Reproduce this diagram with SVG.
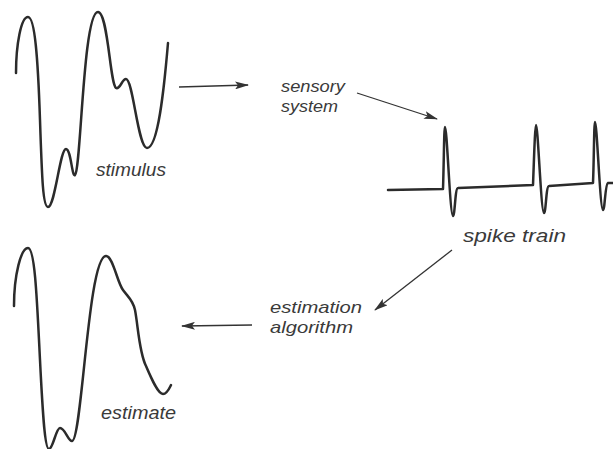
<svg xmlns="http://www.w3.org/2000/svg" width="613" height="449" viewBox="0 0 613 449">
<style>
.wave{fill:none;stroke:#2b2b2b;stroke-width:2.5;stroke-linecap:round;stroke-linejoin:round}
.conn{fill:none;stroke:#333;stroke-width:1.3}
.lbl{font-family:"Liberation Sans",Arial,sans-serif;font-style:italic;font-size:19px;fill:#3a3a3a}
.lbl2{font-family:"Liberation Sans",Arial,sans-serif;font-style:italic;font-size:17px;fill:#3a3a3a}
</style>
<defs>
<marker id="ah" viewBox="0 0 14 8" refX="13" refY="4" markerWidth="14" markerHeight="8" markerUnits="userSpaceOnUse" orient="auto">
<path d="M0,0 L14,4 L0,8 L3,4 Z" fill="#333"/>
</marker>
</defs>
<rect width="613" height="449" fill="#fff"/>
<g id="stimulus">
<path class="wave" d="M16,73 C16,45 21,17 28,17 C35,17 38,60 40,120 C42,180 43,207 48,207 C55,207 60,149 66,149 C71,149 72,178 75,175 C81,170 83,12 98,12 C108,12 110,84 116,88 C120,90 122,79 126,79 C133,79 138,148 147,148 C158,148 164,90 168,43"/>
<text class="lbl" x="96" y="176" textLength="70" lengthAdjust="spacingAndGlyphs">stimulus</text>
</g>
<g id="sensory-system">
<text class="lbl2" x="281" y="92" textLength="64" lengthAdjust="spacingAndGlyphs">sensory</text>
<text class="lbl2" x="281" y="111.5" textLength="57" lengthAdjust="spacingAndGlyphs">system</text>
</g>
<g id="spike-train">
<path class="wave" d="M388,190 L443,189 C444,160 444,127 445,127 C447,127 450,216 453,216 C455,216 455,188 458,188 L533,185 C534,160 535,125 536,125 C538,125 541,213 544,213 C546,213 546,186 549,186 L593,183 C594,160 594,122 595,122 C597,122 600,210 603,210 C605,210 605,184 608,183 L613,183"/>
<text class="lbl" x="463" y="242" textLength="103" lengthAdjust="spacingAndGlyphs">spike train</text>
</g>
<g id="estimation-algorithm">
<text class="lbl2" x="270" y="313" textLength="92" lengthAdjust="spacingAndGlyphs">estimation</text>
<text class="lbl2" x="270" y="332.5" textLength="83" lengthAdjust="spacingAndGlyphs">algorithm</text>
</g>
<g id="estimate">
<path class="wave" d="M14,306 C14,275 21,248 28,248 C35,248 37,300 40,360 C43,420 45,449 49,449 C53,449 56,428 60,428 C65,428 68,441 72,441 C82,441 88,256 106,256 C113,256 117,282 123,290 C128,297 133,300 135,310 C138,325 139,352 146,366 C152,380 158,394 163,394 C167,394 169,389 171,385"/>
<text class="lbl" x="101" y="419" textLength="75" lengthAdjust="spacingAndGlyphs">estimate</text>
</g>
<g id="connectors">
<line class="conn" x1="179" y1="87" x2="248" y2="85" marker-end="url(#ah)"/>
<line class="conn" x1="357" y1="93" x2="437" y2="119" marker-end="url(#ah)"/>
<line class="conn" x1="452" y1="250" x2="375" y2="310" marker-end="url(#ah)"/>
<line class="conn" x1="252" y1="325" x2="182" y2="326" marker-end="url(#ah)"/>
</g>
</svg>
